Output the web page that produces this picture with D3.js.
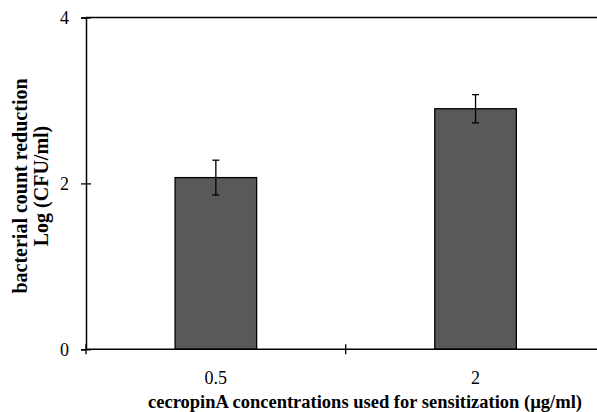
<!DOCTYPE html>
<html><head><meta charset="utf-8">
<script src="https://cdn.jsdelivr.net/npm/d3@7"></script>
<style>body{margin:0;background:#fff}svg{display:block}</style>
</head><body>
<script>
const categories = ["0.5", "2"];
const values = [2.07, 2.90];
const errors = [0.21, 0.17];
const yTicks = [0, 2, 4];
const yLabelLines = ["bacterial count reduction", "Log (CFU/ml)"];
const xTitle = "cecropinA concentrations used for sensitization (\u00b5g/ml)";

(function () {
const W = 597, H = 412;
const mLeft = 86, mRight = 605.4, mTop = 17.5, mBottom = 349.3;
const svg = d3.select("body").append("svg").attr("width", W).attr("height", H);

const x = d3.scaleBand().domain(categories).range([mLeft, mRight]).paddingInner(0.686).paddingOuter(0.343);
const y = d3.scaleLinear().domain([0, 4]).range([mBottom, mTop]);

const font = "'Liberation Serif','Times New Roman',serif";

// top frame line
svg.append("line").attr("x1", mLeft).attr("x2", mRight).attr("y1", y(4)).attr("y2", y(4))
  .attr("stroke", "#000").attr("stroke-width", 1.5);

// bars
svg.selectAll("rect.bar").data(values).join("rect")
  .attr("x", (d, i) => x(categories[i]))
  .attr("y", d => y(d))
  .attr("width", x.bandwidth())
  .attr("height", d => y(0) - y(d))
  .attr("fill", "#595959").attr("stroke", "#000").attr("stroke-width", 1.3);

// error bars
const eg = svg.selectAll("g.err").data(values).join("g")
  .attr("transform", (d, i) => `translate(${x(categories[i]) + x.bandwidth() / 2},0)`);
eg.append("line").attr("x1", 0).attr("x2", 0)
  .attr("y1", (d, i) => y(d + errors[i])).attr("y2", (d, i) => y(d - errors[i]))
  .attr("stroke", "#000").attr("stroke-width", 1.3);
eg.append("line").attr("x1", -3.5).attr("x2", 3.5)
  .attr("y1", (d, i) => y(d + errors[i])).attr("y2", (d, i) => y(d + errors[i]))
  .attr("stroke", "#000").attr("stroke-width", 1.3);
eg.append("line").attr("x1", -3.5).attr("x2", 3.5)
  .attr("y1", (d, i) => y(d - errors[i])).attr("y2", (d, i) => y(d - errors[i]))
  .attr("stroke", "#000").attr("stroke-width", 1.3);

// y axis
const yAxis = svg.append("g").attr("transform", `translate(${mLeft},0)`)
  .call(d3.axisLeft(y).tickValues(yTicks).tickFormat(d3.format("d")).tickSize(5).tickPadding(12));
yAxis.select(".domain").attr("stroke-width", 1.5);
yAxis.selectAll(".tick line").attr("x2", 5).attr("x1", -5).attr("stroke-width", 1.3);
yAxis.selectAll(".tick text").attr("font-family", font).attr("font-size", 18).attr("fill", "#000");

// x axis (line + ticks between categories)
const xAxisG = svg.append("g");
xAxisG.append("line").attr("x1", mLeft).attr("x2", mRight).attr("y1", mBottom).attr("y2", mBottom)
  .attr("stroke", "#000").attr("stroke-width", 1.5);
const bounds = [mLeft].concat(categories.slice(1).map(c => x(c) - x.step() * x.paddingInner() / 2));
xAxisG.selectAll("line.tk").data(bounds).join("line").attr("class", "tk")
  .attr("x1", d => d).attr("x2", d => d).attr("y1", mBottom - 5).attr("y2", mBottom + 5)
  .attr("stroke", "#000").attr("stroke-width", 1.3);
xAxisG.selectAll("text").data(categories).join("text")
  .attr("x", d => x(d) + x.bandwidth() / 2).attr("y", 384)
  .attr("text-anchor", "middle").attr("font-family", font).attr("font-size", 18)
  .text(d => d);

// x title
svg.append("text").attr("x", 365).attr("y", 408).attr("text-anchor", "middle")
  .attr("font-family", font).attr("font-size", 18.5).attr("font-weight", "bold").text(xTitle);

// y title
const yt = svg.append("text").attr("transform", `translate(0,186) rotate(-90)`)
  .attr("text-anchor", "middle").attr("font-family", font).attr("font-size", 20).attr("font-weight", "bold");
yLabelLines.forEach((t, i) => yt.append("tspan").attr("x", 0).attr("y", 27 + i * 21).text(t));
})();
</script>
</body></html>
